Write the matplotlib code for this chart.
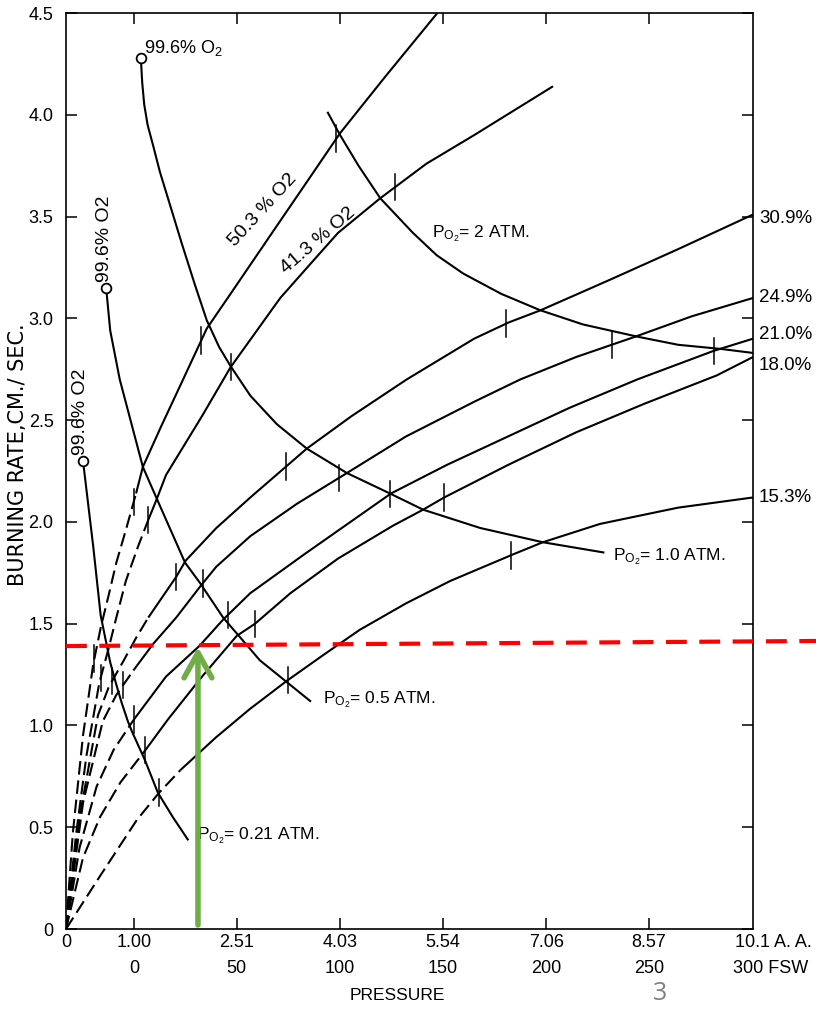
import numpy as np
import matplotlib
matplotlib.use("Agg")
import matplotlib.pyplot as plt

plt.rcParams['font.family'] = ['Liberation Sans', 'DejaVu Sans']
plt.rcParams['mathtext.fontset'] = 'custom'
plt.rcParams['mathtext.rm'] = 'Liberation Sans'
plt.rcParams['mathtext.it'] = 'Liberation Sans:italic'

# ---------------- data (pressure in ATA, burning rate in cm/s) ----------------
o2_names = ['50.3', '41.3', '30.9', '24.9', '21.0', '18.0', '15.3']

p_503 = [0, 0.10, 0.25, 0.40, 0.51, 0.62, 0.74, 0.88, 1.03, 1.13, 1.40, 1.68, 2.07, 2.50, 3.05, 3.50, 4.03, 4.70, 5.46]
r_503 = [0, 0.47, 0.95, 1.30, 1.48, 1.63, 1.80, 1.96, 2.14, 2.27, 2.47, 2.67, 2.95, 3.16, 3.43, 3.65, 3.91, 4.19, 4.50]

p_413 = [0, 0.15, 0.30, 0.49, 0.62, 0.74, 0.88, 1.06, 1.21, 1.32, 1.47, 2.00, 2.42, 3.15, 3.60, 4.00, 4.62, 5.30, 6.00, 7.16]
r_413 = [0, 0.47, 0.85, 1.21, 1.37, 1.53, 1.71, 1.88, 2.01, 2.10, 2.23, 2.52, 2.76, 3.10, 3.27, 3.42, 3.59, 3.76, 3.90, 4.14]

p_309 = [0, 0.20, 0.47, 0.63, 0.85, 1.03, 1.21, 1.62, 1.76, 2.21, 2.71, 3.54, 4.20, 5.01, 6.00, 6.51, 6.98, 8.00, 9.00, 10.1]
r_309 = [0, 0.55, 1.05, 1.19, 1.32, 1.43, 1.53, 1.73, 1.81, 1.97, 2.12, 2.36, 2.52, 2.70, 2.90, 2.98, 3.04, 3.19, 3.34, 3.51]

p_249 = [0, 0.25, 0.54, 0.74, 0.99, 1.28, 1.62, 1.99, 2.21, 2.71, 3.40, 4.13, 5.00, 6.00, 6.68, 7.50, 8.37, 9.20, 10.1]
r_249 = [0, 0.62, 1.02, 1.15, 1.27, 1.40, 1.53, 1.69, 1.78, 1.93, 2.09, 2.24, 2.42, 2.59, 2.70, 2.81, 2.91, 3.01, 3.10]

p_210 = [0, 0.20, 0.45, 0.70, 1.00, 1.47, 1.96, 2.31, 2.71, 3.50, 4.78, 5.60, 6.50, 7.40, 8.40, 9.52, 10.1]
r_210 = [0, 0.40, 0.70, 0.88, 1.03, 1.24, 1.39, 1.52, 1.65, 1.84, 2.14, 2.28, 2.42, 2.56, 2.70, 2.84, 2.90]

p_180 = [0, 0.25, 0.50, 0.80, 1.17, 1.50, 2.00, 2.51, 2.78, 3.30, 4.00, 4.80, 5.25, 5.56, 6.50, 7.50, 8.50, 9.57, 10.1]
r_180 = [0, 0.35, 0.55, 0.72, 0.88, 1.03, 1.24, 1.44, 1.50, 1.65, 1.82, 1.98, 2.06, 2.12, 2.28, 2.44, 2.58, 2.72, 2.81]

p_153 = [0, 0.50, 1.04, 1.37, 1.68, 2.20, 2.70, 3.25, 3.80, 4.32, 5.00, 5.65, 6.57, 7.01, 7.85, 9.00, 10.1]
r_153 = [0, 0.26, 0.535, 0.67, 0.78, 0.94, 1.08, 1.22, 1.35, 1.47, 1.60, 1.71, 1.84, 1.90, 1.99, 2.07, 2.12]

o2_pressures = [p_503, p_413, p_309, p_249, p_210, p_180, p_153]
o2_rates = [r_503, r_413, r_309, r_249, r_210, r_180, r_153]
dashed_until = [1.03, 1.21, 1.21, 0.99, 1.00, 1.17, 1.68]

# iso-PO2 curves
po2_2_p = [3.85, 4.03, 4.30, 4.62, 5.10, 5.45, 5.84, 6.40, 6.97, 7.60, 8.40, 9.00, 9.62, 10.1]
po2_2_r = [4.01, 3.90, 3.75, 3.59, 3.42, 3.31, 3.22, 3.12, 3.04, 2.97, 2.91, 2.87, 2.85, 2.83]

po2_1_p = [1.10, 1.12, 1.15, 1.20, 1.28, 1.38, 1.49, 1.70, 1.90, 2.07, 2.25, 2.41, 2.71, 3.10, 3.54, 4.13, 4.76, 5.25, 6.09, 7.01, 7.90]
po2_1_r = [4.28, 4.16, 4.05, 3.95, 3.85, 3.72, 3.60, 3.37, 3.16, 2.99, 2.86, 2.77, 2.62, 2.48, 2.36, 2.24, 2.14, 2.06, 1.97, 1.90, 1.85]

po2_05_p = [0.59, 0.65, 0.79, 1.13, 1.34, 1.75, 1.97, 2.31, 2.85, 3.22, 3.59]
po2_05_r = [3.15, 2.94, 2.70, 2.27, 2.11, 1.80, 1.70, 1.53, 1.32, 1.22, 1.12]

po2_021_p = [0.25, 0.40, 0.51, 0.65, 0.74, 0.82, 0.91, 0.97, 1.16, 1.35, 1.57, 1.79]
po2_021_r = [2.30, 1.88, 1.54, 1.31, 1.20, 1.11, 1.02, 0.97, 0.83, 0.67, 0.55, 0.44]

po2_levels = [0.21, 0.5, 1.0, 2.0]

pressure_ata = [0, 1.00, 2.51, 4.03, 5.54, 7.06, 8.57, 10.1]
ata_labels = ['0', '1.00', '2.51', '4.03', '5.54', '7.06', '8.57', '10.1 A. A.']
fsw_labels = ['', '0', '50', '100', '150', '200', '250', '300 FSW']
rate_ticks = [0, 0.5, 1.0, 1.5, 2.0, 2.5, 3.0, 3.5, 4.0, 4.5]
rate_labels = ['0', '0.5', '1.0', '1.5', '2.0', '2.5', '3.0', '3.5', '4.0', '4.5']

highlight_rate = [1.39, 1.415]
highlight_p = [0, 11.03]
arrow_p = 1.94
arrow_rate = [0.02, 1.385]

# ---------------- figure ----------------
W, H = 816, 1009
fig = plt.figure(figsize=(W / 100, H / 100), dpi=100)
ax = fig.add_axes([66 / W, 1 - 929 / H, (753 - 66) / W, (929 - 13) / H])
ax.set_xlim(0, 10.1)
ax.set_ylim(0, 4.5)

LW = 1.5
dash = (0, (6.5, 2.8))
for xs, ys, de in zip(o2_pressures, o2_rates, dashed_until):
    xs = np.array(xs); ys = np.array(ys)
    m1 = xs <= de + 1e-9
    m2 = xs >= de - 1e-9
    ax.plot(xs[m1], ys[m1], color='k', lw=LW, linestyle=dash, dash_capstyle='butt')
    ax.plot(xs[m2], ys[m2], color='k', lw=LW, solid_capstyle='butt', solid_joinstyle='round')

# tick marks where each O2 curve meets the PO2 levels
for name, xs, ys in zip(o2_names, o2_pressures, o2_rates):
    f = float(name) / 100
    for lev in po2_levels:
        p = lev / f
        if p <= xs[-1]:
            r = np.interp(p, xs, ys)
            ax.plot([p, p], [r - 0.065, r + 0.065], color='k', lw=1.1)

for xs, ys in [(po2_2_p, po2_2_r), (po2_1_p, po2_1_r), (po2_05_p, po2_05_r), (po2_021_p, po2_021_r)]:
    ax.plot(xs, ys, color='k', lw=LW, solid_joinstyle='round')
for xs, ys in [(po2_1_p, po2_1_r), (po2_05_p, po2_05_r), (po2_021_p, po2_021_r)]:
    ax.plot(xs[0], ys[0], 'o', mfc='white', mec='k', ms=7, mew=1.3)

# ---------------- axes styling ----------------
for s in ax.spines.values():
    s.set_linewidth(1.2)
ax.set_yticks(rate_ticks)
ax.set_yticklabels(rate_labels)
ax.set_xticks(pressure_ata[1:-1])
ax.set_xticklabels([])
ax.yaxis.set_ticks_position('both')
ax.xaxis.set_ticks_position('both')
ax.tick_params(direction='in', length=8, width=1.1, labelsize=13, pad=9)
ax.tick_params(axis='y', labelright=False)

xt = ax.get_xaxis_transform()
for p, a, f in zip(pressure_ata, ata_labels, fsw_labels):
    if a.startswith('10.1'):
        ax.text(9.83, -0.0145, a, transform=xt, ha='left', va='center', fontsize=13, clip_on=False)
        ax.text(9.81, -0.0435, f, transform=xt, ha='left', va='center', fontsize=13, clip_on=False)
    else:
        ax.text(p, -0.0145, a, transform=xt, ha='center', va='center', fontsize=13)
        ax.text(p, -0.0435, f, transform=xt, ha='center', va='center', fontsize=13)
ax.text(4.87, -0.0725, 'PRESSURE', transform=xt, ha='center', va='center', fontsize=12.5)

fig.text(18 / W, 1 - 455 / H, 'BURNING RATE,CM./ SEC.', rotation=90, ha='center', va='center',
         fontsize=15, family='DejaVu Sans')

# ---------------- labels ----------------
ax.text(1.15, 4.33, '99.6% O$_2$', ha='left', va='center', fontsize=13)
ax.text(0.56, 3.18, '99.6% O2', rotation=90, ha='center', va='bottom', fontsize=14)
ax.text(0.22, 2.33, '99.6% O2', rotation=90, ha='center', va='bottom', fontsize=14)
ax.text(2.90, 3.53, '50.3 % O2', rotation=47.5, ha='center', va='center', fontsize=14, rotation_mode='anchor')
ax.text(3.71, 3.38, '41.3 % O2', rotation=40.6, ha='center', va='center', fontsize=14, rotation_mode='anchor')
ax.text(5.38, 3.40, r'$\mathregular{P_{O_2}}$= 2 ATM.', ha='left', va='baseline', fontsize=12.5)
ax.text(8.04, 1.81, r'$\mathregular{P_{O_2}}$= 1.0 ATM.', ha='left', va='baseline', fontsize=12.5)
ax.text(3.78, 1.11, r'$\mathregular{P_{O_2}}$= 0.5 ATM.', ha='left', va='baseline', fontsize=12.5)
ax.text(1.93, 0.44, r'$\mathregular{P_{O_2}}$= 0.21 ATM.', ha='left', va='baseline', fontsize=12.5)

right_y = [None, None, 3.49, 3.10, 2.92, 2.77, 2.12]
for name, yy in zip(o2_names, right_y):
    if yy is not None:
        ax.text(10.19, yy, name + '%', ha='left', va='center', fontsize=13.5, clip_on=False)

# ---------------- overlays ----------------
ax.plot(highlight_p, highlight_rate, color='#FF0000', lw=3, linestyle=(0, (5, 3)), clip_on=False, zorder=5)
ax.annotate('', xy=(arrow_p, arrow_rate[1]), xytext=(arrow_p, arrow_rate[0]),
            arrowprops=dict(arrowstyle='->,head_length=0.9,head_width=0.5', lw=4, color='#70AD47',
                            shrinkA=0, shrinkB=0, mutation_scale=20), zorder=6)

fig.text(660 / W, 1 - 993 / H, '3', ha='center', va='center', fontsize=18, color='#808080', family='Open Sans')

fig.savefig('out.png', dpi=100)
